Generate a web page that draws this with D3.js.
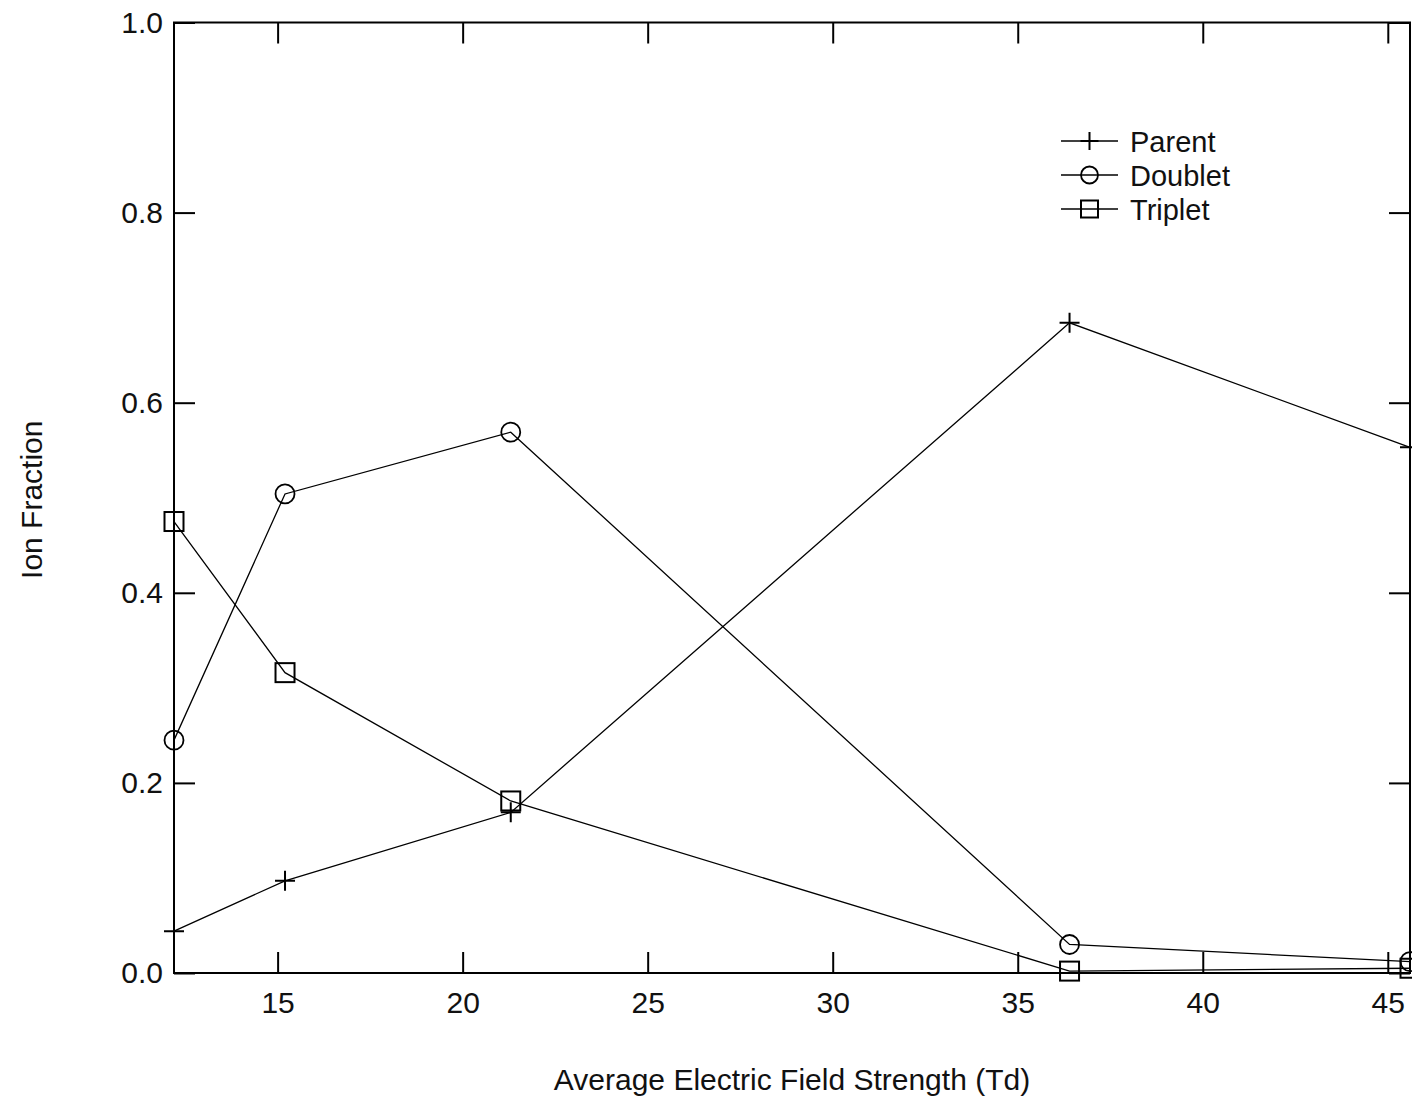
<!DOCTYPE html>
<html>
<head>
<meta charset="utf-8">
<script src="https://cdn.jsdelivr.net/npm/d3@7"></script>
<style>
  html, body { margin: 0; padding: 0; background: #fff; }
  svg { display: block; font-family: "Liberation Sans", Arial, sans-serif; }
</style>
</head>
<body>
<svg id="chart" width="1412" height="1097"></svg>
<script>
// Field strength (Td) and ion fractions for each species
const fieldStrength = [12.2, 15.2, 21.3, 36.4, 45.6];
const parentFraction = [0.044, 0.097, 0.169, 0.684, 0.553];
const doubletFraction = [0.245, 0.504, 0.569, 0.030, 0.012];
const tripletFraction = [0.475, 0.316, 0.181, 0.002, 0.005];
const xTickValues = [15, 20, 25, 30, 35, 40, 45];
const yTickValues = [0, 0.2, 0.4, 0.6, 0.8, 1.0];
const seriesNames = ["Parent", "Doublet", "Triplet"];
const seriesMarkers = ["plus", "circle", "square"];

const svg = d3.select("#chart");
const plotLeft = 174, plotRight = 1410, plotTop = 22.5, plotBottom = 973;

const x = d3.scaleLinear().domain([12.2, 45.6]).range([plotLeft, plotRight]);
const y = d3.scaleLinear().domain([0, 1]).range([plotBottom, plotTop]);

const tickLen = 21;
const fontSize = 30;

// Axes: ticks point inward on all four sides
const gB = svg.append("g").attr("transform", `translate(0,${plotBottom})`)
  .call(d3.axisBottom(x).tickValues(xTickValues).tickFormat(d3.format("d"))
    .tickSizeInner(-tickLen).tickSizeOuter(0).tickPadding(19));
const gT = svg.append("g").attr("transform", `translate(0,${plotTop})`)
  .call(d3.axisTop(x).tickValues(xTickValues).tickFormat("")
    .tickSizeInner(-tickLen).tickSizeOuter(0));
const gL = svg.append("g").attr("transform", `translate(${plotLeft},0)`)
  .call(d3.axisLeft(y).tickValues(yTickValues).tickFormat(d3.format(".1f"))
    .tickSizeInner(-tickLen).tickSizeOuter(0).tickPadding(11));
const gR = svg.append("g").attr("transform", `translate(${plotRight},0)`)
  .call(d3.axisRight(y).tickValues(yTickValues).tickFormat("")
    .tickSizeInner(-tickLen).tickSizeOuter(0));

[gB, gT, gL, gR].forEach(g => {
  g.select(".domain").remove();
  g.selectAll(".tick line").attr("stroke", "#000").attr("stroke-width", 2);
  g.selectAll(".tick text")
    .attr("fill", "#111")
    .style("font-size", fontSize + "px")
    .style("font-family", "'Liberation Sans', Arial, sans-serif");
});

// Plot frame
svg.append("rect")
  .attr("x", plotLeft).attr("y", plotTop)
  .attr("width", plotRight - plotLeft).attr("height", plotBottom - plotTop)
  .attr("fill", "none").attr("stroke", "#000").attr("stroke-width", 2);

// Axis titles
svg.append("text")
  .attr("x", (plotLeft + plotRight) / 2).attr("y", 1090)
  .attr("text-anchor", "middle")
  .style("font-size", fontSize + "px").attr("fill", "#111")
  .text("Average Electric Field Strength (Td)");
svg.append("text")
  .attr("transform", `translate(42,${(plotTop + plotBottom) / 2 + 2}) rotate(-90)`)
  .attr("text-anchor", "middle")
  .style("font-size", fontSize + "px").attr("fill", "#111")
  .text("Ion Fraction");

// Marker drawing helper
function drawMarker(g, type, cx, cy, r) {
  if (type === "plus") {
    g.append("path")
      .attr("d", `M${cx - r},${cy}H${cx + r}M${cx},${cy - r}V${cy + r}`)
      .attr("stroke", "#000").attr("stroke-width", 2).attr("fill", "none");
  } else if (type === "circle") {
    g.append("circle").attr("cx", cx).attr("cy", cy).attr("r", r - 0.5)
      .attr("stroke", "#000").attr("stroke-width", 1.8).attr("fill", "none");
  } else {
    g.append("rect").attr("x", cx - r + 0.5).attr("y", cy - r + 0.5)
      .attr("width", 2 * r - 1).attr("height", 2 * r - 1)
      .attr("stroke", "#000").attr("stroke-width", 2).attr("fill", "none");
  }
}

const allSeries = [parentFraction, doubletFraction, tripletFraction];
const line = d3.line().x((d, i) => x(fieldStrength[i])).y(d => y(d));

allSeries.forEach((vals, s) => {
  const g = svg.append("g");
  g.append("path").datum(vals).attr("d", line)
    .attr("fill", "none").attr("stroke", "#000").attr("stroke-width", 1.3);
  vals.forEach((v, i) => drawMarker(g, seriesMarkers[s], x(fieldStrength[i]), y(v), 10));
});

// Legend
const legendRows = [141, 175, 209];
seriesNames.forEach((name, s) => {
  const g = svg.append("g");
  const ly = legendRows[s];
  g.append("line").attr("x1", 1061).attr("x2", 1118).attr("y1", ly).attr("y2", ly)
    .attr("stroke", "#000").attr("stroke-width", 1.5);
  drawMarker(g, seriesMarkers[s], 1089.5, ly, 9);
  g.append("text").attr("x", 1130).attr("y", ly + 10.5)
    .style("font-size", "29px").attr("fill", "#111").text(name);
});
</script>
</body>
</html>
